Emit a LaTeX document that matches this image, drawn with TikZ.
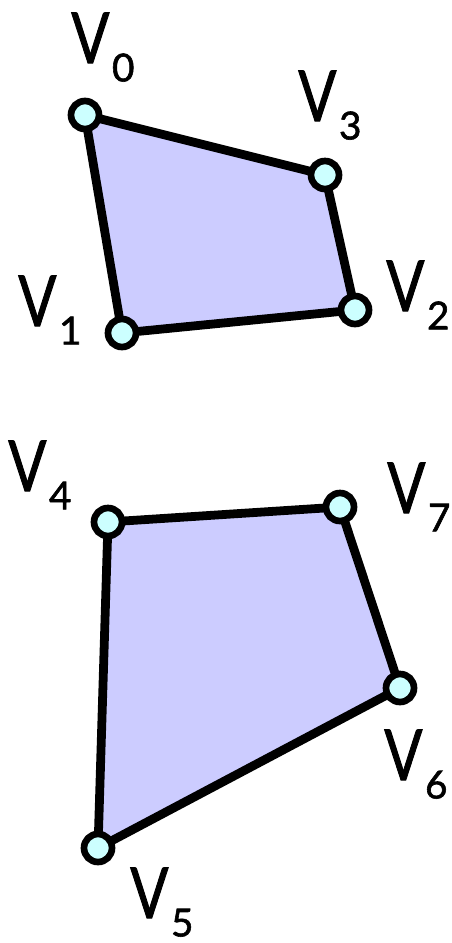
\documentclass[tikz,border=0pt]{standalone}
\usepackage{fontspec}
\usepackage{graphicx}
\setmainfont{Lato}
\newfontfamily\labfont{Lato}[FakeBold=1.5]
\usepackage{tikz}
\usetikzlibrary{positioning,calc}

\definecolor{facefill}{RGB}{204,204,255}
\definecolor{vertfill}{RGB}{204,255,255}
\newcommand{\vlab}[1]{\labfont\scalebox{0.8}[1]{\fontsize{40}{40}\selectfont V}\kern1.5pt\raisebox{-10.5pt}{\fontsize{22}{22}\selectfont #1}}

\begin{document}
\begin{tikzpicture}[x=0.02cm,y=-0.02cm,
  face/.style={fill=facefill,draw=black,line width=5pt,line join=round},
  vert/.style={circle,fill=vertfill,draw=black,line width=3.8pt,minimum size=0.56cm,inner sep=0pt},
  vlabel/.style={inner sep=0pt,anchor=base west}]
\useasboundingbox (0,0) rectangle (452,943);
% upper quad
\coordinate (v0) at (85,115);
\coordinate (v1) at (122,333);
\coordinate (v2) at (355,310);
\coordinate (v3) at (325,175);
% lower quad
\coordinate (v4) at (108,522);
\coordinate (v5) at (98,848);
\coordinate (v6) at (400,688);
\coordinate (v7) at (340,507);
\path[face] (v0) -- (v1) -- (v2) -- (v3) -- cycle;
\path[face] (v4) -- (v5) -- (v6) -- (v7) -- cycle;
\foreach \v in {v0,v1,v2,v3,v4,v5,v6,v7}
  \node[vert] (n\v) at (\v) {};
% labels
\node[vlabel] (l0) at (71,63) {\vlab{0}};
\node[vlabel] (l1) at (18,326) {\vlab{1}};
\node[vlabel] (l2) at (386,311) {\vlab{2}};
\node[vlabel] (l3) at (298,121) {\vlab{3}};
\node[vlabel] (l4) at (8,491) {\vlab{4}};
\node[vlabel] (l5) at (130,918) {\vlab{5}};
\node[vlabel] (l6) at (384,780) {\vlab{6}};
\node[vlabel] (l7) at (387,513) {\vlab{7}};
\end{tikzpicture}
\end{document}
